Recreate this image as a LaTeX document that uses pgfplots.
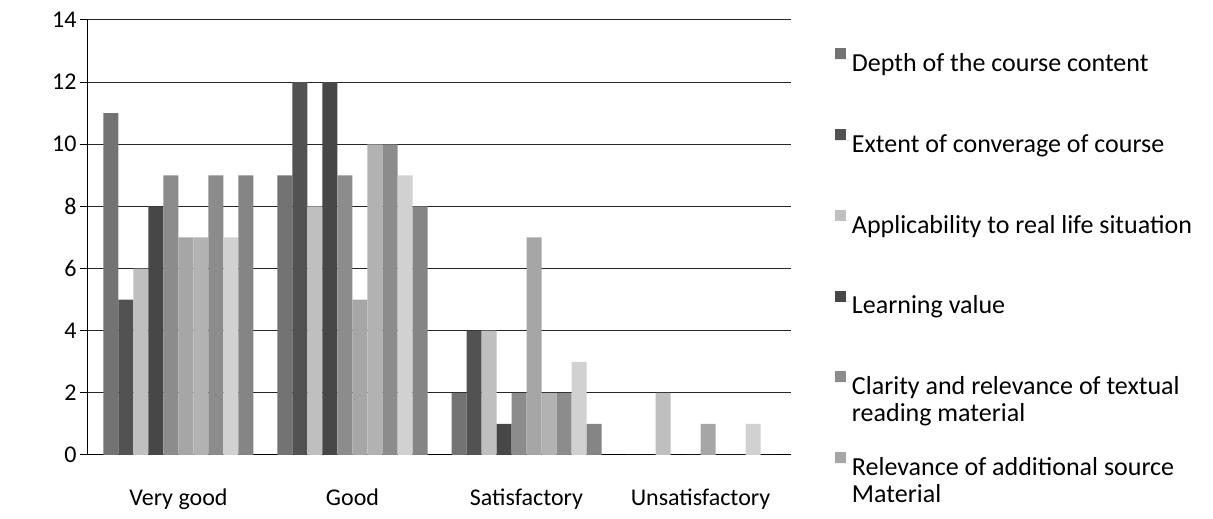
\documentclass[border=0pt]{standalone}
\usepackage{fontspec}
\setmainfont{Carlito}
\usepackage{pgfplots}
\pgfplotsset{compat=1.18}
\newcommand{\twoline}[2]{\raisebox{0pt}[\height][0pt]{\renewcommand{\arraystretch}{0.86}\begin{tabular}[t]{@{}l@{}}#1\\#2\end{tabular}}}
\begin{document}
\begin{tikzpicture}
\begin{axis}[
  at={(0pt,0pt)}, anchor=south west,
  scale only axis, width=703pt, height=435pt,
  ybar=0pt, bar width=15pt,
  xmin=-0.52, xmax=3.52, ymin=0, ymax=14,
  xtick={0,1,2,3}, xticklabels={Very good, Good, Satisfactory, Unsatisfactory},
  ytick={0,2,...,14},
  axis x line*=bottom, axis y line*=left,
  axis line style={-, black, line width=1pt},
  ymajorgrids, major grid style={black!85, line width=1pt},
  x tick style={draw=none},
  y tick style={black, line width=1pt}, tick align=outside, major tick length=8pt,
  /pgf/number format/assume math mode=true,
  tick label style={font=\fontsize{24}{29}\selectfont},
  xticklabel style={yshift=-22pt},
  legend style={at={(1.058,0.94)}, anchor=north west, draw=none, fill=none,
    font=\fontsize{26}{31}\selectfont, row sep=54pt},
  legend cell align=left,
  legend image code/.code={\fill[#1] (0pt,4pt) rectangle (11pt,15pt); \path (0pt,4pt) -- (15pt,4pt);},
  every axis plot/.append style={draw=none},
]
\addplot[fill=black!55] coordinates {(0,11) (1,9) (2,2) (3,0)};
\addplot[fill=black!68] coordinates {(0,5) (1,12) (2,4) (3,0)};
\addplot[fill=black!25] coordinates {(0,6) (1,8) (2,4) (3,2)};
\addplot[fill=black!72] coordinates {(0,8) (1,12) (2,1) (3,0)};
\addplot[fill=black!45] coordinates {(0,9) (1,9) (2,2) (3,0)};
\addplot[fill=black!35] coordinates {(0,7) (1,5) (2,7) (3,1)};
\addplot[fill=black!30] coordinates {(0,7) (1,10) (2,2) (3,0)};
\addplot[fill=black!45] coordinates {(0,9) (1,10) (2,2) (3,0)};
\addplot[fill=black!18] coordinates {(0,7) (1,9) (2,3) (3,1)};
\addplot[fill=black!48] coordinates {(0,9) (1,8) (2,1) (3,0)};
\legend{Depth of the course content, Extent of converage of course, Applicability to real life situation, Learning value, {\twoline{Clarity and relevance of textual}{reading material}}, {\twoline{Relevance of additional source}{Material}}}
\end{axis}
\pgfresetboundingbox
\path (-88pt,-64pt) rectangle (1125pt,455pt);
\end{tikzpicture}
\end{document}
